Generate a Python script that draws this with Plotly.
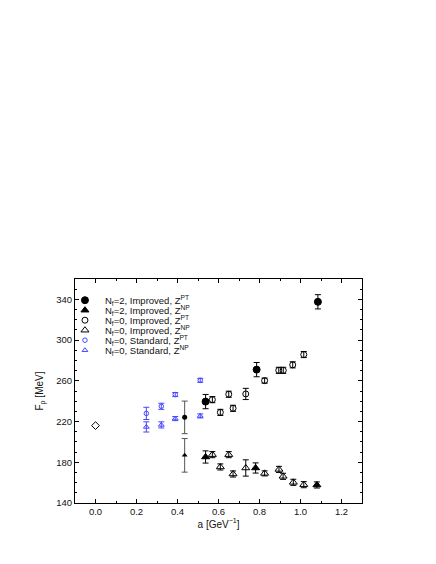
import plotly.graph_objects as go

# ---- data ----
nf2_pt_x = [0.537, 0.786, 1.085]
nf2_pt_y = [239.6, 271.0, 337.6]
nf2_pt_e = [7, 7, 7]

nf2_np_x = [0.537, 0.781, 1.080]
nf2_np_y = [185.2, 174.4, 157.7]
nf2_np_e = [6, 5, 3]

nf0i_pt_x = [0.570, 0.609, 0.650, 0.671, 0.733, 0.825, 0.894, 0.916, 0.962, 1.016]
nf0i_pt_y = [241.5, 229.0, 246.8, 233.0, 247.1, 260.2, 270.3, 270.3, 275.7, 285.8]
nf0i_pt_e = [3, 3, 3, 3, 5.5, 2.5, 3, 3, 3, 3]

nf0i_np_x = [0.570, 0.609, 0.650, 0.671, 0.733, 0.825, 0.895, 0.915, 0.965, 1.016]
nf0i_np_y = [187.5, 175.4, 187.5, 168.5, 174.4, 169.1, 173.0, 166.2, 160.3, 158.0]
nf0i_np_e = [3, 3, 3, 3, 8, 2.5, 3, 3, 3, 3]

nf0s_pt_x = [0.248, 0.321, 0.389, 0.511]
nf0s_pt_y = [228.0, 235.0, 246.5, 260.5]
nf0s_pt_e = [6, 3, 2, 2]

nf0s_np_x = [0.248, 0.321, 0.389, 0.511]
nf0s_np_y = [214.7, 216.7, 222.9, 225.5]
nf0s_np_e = [5, 3, 2, 2]

extra_pt_x = [0.435]
extra_pt_y = [224.1]
extra_pt_e = [16]
extra_np_x = [0.435]
extra_np_y = [186.8]
extra_np_e = [16.5]
extra_xe = [0.01]

exp_x = [0.0]
exp_y = [216.0]

names = [
    "N<sub>f</sub>=2, Improved, Z<sup>PT</sup>",
    "N<sub>f</sub>=2, Improved, Z<sup>NP</sup>",
    "N<sub>f</sub>=0, Improved, Z<sup>PT</sup>",
    "N<sub>f</sub>=0, Improved, Z<sup>NP</sup>",
    "N<sub>f</sub>=0, Standard, Z<sup>PT</sup>",
    "N<sub>f</sub>=0, Standard, Z<sup>NP</sup>",
]

BLUE = "rgb(70,70,255)"
BLACK = "black"

fig = go.Figure()

def err(e, color):
    return dict(type="data", array=e, visible=True, color=color, thickness=1, width=3)

series = [
    (nf0i_pt_x, nf0i_pt_y, nf0i_pt_e, "circle-open", 6, BLACK, names[2], "legend3"),
    (nf0i_np_x, nf0i_np_y, nf0i_np_e, "triangle-up-open", 7, BLACK, names[3], "legend4"),
    (nf0s_pt_x, nf0s_pt_y, nf0s_pt_e, "circle-open", 4.5, BLUE, names[4], "legend5"),
    (nf0s_np_x, nf0s_np_y, nf0s_np_e, "triangle-up-open", 5, BLUE, names[5], "legend6"),
    (nf2_pt_x, nf2_pt_y, nf2_pt_e, "circle", 7, BLACK, names[0], "legend"),
    (nf2_np_x, nf2_np_y, nf2_np_e, "triangle-up", 7, BLACK, names[1], "legend2"),
]
for x, y, e, sym, size, col, name, leg in series:
    fig.add_trace(go.Scatter(
        x=x, y=y, mode="markers", name=name, legend=leg,
        marker=dict(symbol=sym, size=size, color=col, line=dict(width=1, color=col)),
        error_y=err(e, col),
    ))

for x, y, e, sym in [(extra_pt_x, extra_pt_y, extra_pt_e, "circle"),
                     (extra_np_x, extra_np_y, extra_np_e, "triangle-up")]:
    fig.add_trace(go.Scatter(
        x=x, y=y, mode="markers", showlegend=False,
        marker=dict(symbol=sym, size=5, color=BLACK),
        error_y=dict(type="data", array=e, visible=True, color="#555", thickness=1, width=3),
        error_x=dict(type="data", array=extra_xe, visible=True, color="#555", thickness=1, width=0),
    ))

fig.add_trace(go.Scatter(
    x=exp_x, y=exp_y, mode="markers", showlegend=False,
    marker=dict(symbol="diamond-open", size=6, color=BLACK, line=dict(width=1, color=BLACK)),
))

FONT = "Liberation Sans, Arial, sans-serif"
# plot-area edges in page pixels (used for legend placement fractions)
top_px, bot_px = 279.3, 503.3
centers = [300.5, 310.5, 320.5, 330.5, 340.5, 350.5]
leg_names = ["legend", "legend2", "legend3", "legend4", "legend5", "legend6"]
legend_layout = {}
for ln, c in zip(leg_names, centers):
    legend_layout[ln] = dict(
        x=-0.035, y=(bot_px - c) / (bot_px - top_px), xanchor="left", yanchor="middle",
        bgcolor="rgba(0,0,0,0)", borderwidth=0, itemwidth=30,
        font=dict(family=FONT, size=9.5, color="#111"),
    )

axis_common = dict(
    showline=True, linecolor="black", linewidth=1, mirror="allticks",
    ticks="inside", ticklen=4, tickcolor="black", tickwidth=1,
    showgrid=False, zeroline=False,
    tickfont=dict(family=FONT, size=9.5, color="#111"),
)

fig.update_layout(
    width=428, height=556,
    margin=dict(l=67, r=74, t=271, b=61, pad=0),
    paper_bgcolor="white", plot_bgcolor="white",
    xaxis=dict(range=[-0.1, 1.3], dtick=0.2, tick0=0, tickformat=".1f",
               minor=dict(ticks="inside", ticklen=2, dtick=0.1, tick0=0, tickcolor="black"),
               title=dict(text="a [GeV<sup>−1</sup>]", font=dict(family=FONT, size=10, color="#111"), standoff=0),
               **axis_common),
    yaxis=dict(range=[140, 360], dtick=40, tick0=140,
               minor=dict(ticks="inside", ticklen=2, dtick=10, tick0=140, tickcolor="black"),
               title=dict(text="F<sub>ρ</sub> [MeV]", font=dict(family=FONT, size=10, color="#111"), standoff=10),
               **axis_common),
    **legend_layout,
)

fig.write_html("out.html")
